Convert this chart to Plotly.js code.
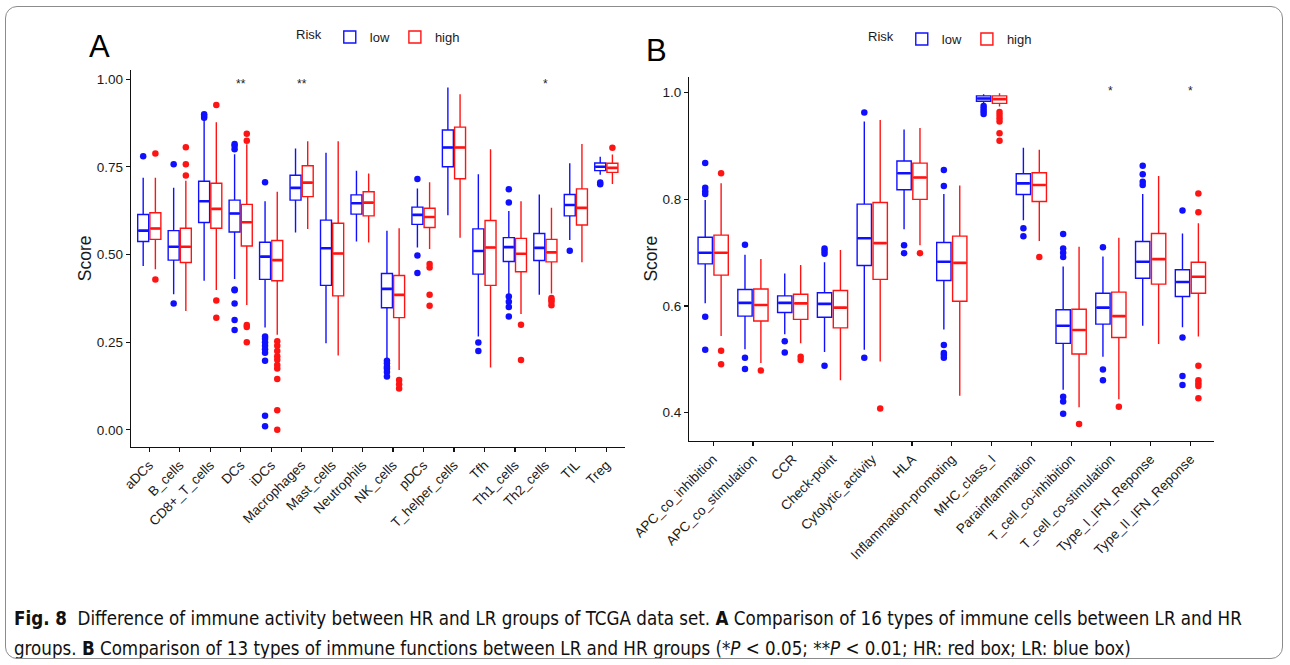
<!DOCTYPE html>
<html>
<head>
<meta charset="utf-8">
<script src="https://cdn.plot.ly/plotly-3.0.1.min.js"></script>
<style>
  html, body { margin: 0; padding: 0; background: #ffffff; }
  #wrap { position: relative; width: 1290px; height: 665px; }
  #chart { width: 1290px; height: 665px; }
  #frame { position: absolute; left: 5px; top: 6px; width: 1278px; height: 653px;
           border: 1.3px solid #8c8c8c; border-radius: 12px; pointer-events: none; box-sizing: border-box; }
</style>
</head>
<body>
<div id="wrap"><div id="chart"></div><div id="frame"></div></div>
<script>
// ---------------- Panel A: immune cells ----------------
const cellsA = ["aDCs","B_cells","CD8+_T_cells","DCs","iDCs","Macrophages","Mast_cells","Neutrophils",
  "NK_cells","pDCs","T_helper_cells","Tfh","Th1_cells","Th2_cells","TIL","Treg"];
const lowA_lo  = [0.467,0.387,0.425,0.430,0.292,0.563,0.247,0.537,0.201,0.520,0.612,0.266,0.387,0.385,0.541,0.727];
const lowA_q1  = [0.537,0.484,0.591,0.564,0.429,0.655,0.412,0.615,0.348,0.586,0.750,0.444,0.480,0.483,0.610,0.739];
const lowA_med = [0.568,0.522,0.652,0.617,0.494,0.690,0.518,0.646,0.402,0.613,0.805,0.510,0.521,0.519,0.641,0.750];
const lowA_q3  = [0.614,0.568,0.709,0.655,0.535,0.726,0.598,0.670,0.446,0.635,0.855,0.573,0.548,0.560,0.671,0.761];
const lowA_hi  = [0.719,0.690,0.885,0.786,0.652,0.802,0.790,0.739,0.568,0.688,0.976,0.729,0.624,0.671,0.760,0.779];
const lowA_out = [[0.780],[0.757,0.360],[0.890,0.895,0.900],[0.800,0.810,0.815,0.400,0.398,0.360,0.313,0.285],
  [0.706,0.266,0.260,0.250,0.240,0.230,0.220,0.197,0.040,0.010],[],[],[],
  [0.197,0.190,0.180,0.175,0.165,0.152],[0.715,0.497,0.447],[],[0.249,0.225],
  [0.686,0.648,0.380,0.365,0.350,0.323],[],[0.511],[0.700,0.705]];
const highA_lo  = [0.458,0.339,0.399,0.356,0.271,0.573,0.212,0.534,0.171,0.516,0.548,0.178,0.330,0.389,0.478,0.701];
const highA_q1  = [0.543,0.477,0.575,0.524,0.425,0.665,0.382,0.610,0.320,0.577,0.716,0.412,0.451,0.479,0.584,0.734];
const highA_med = [0.574,0.522,0.630,0.592,0.484,0.705,0.503,0.648,0.385,0.607,0.805,0.520,0.502,0.506,0.633,0.747];
const highA_q3  = [0.619,0.575,0.703,0.643,0.540,0.753,0.589,0.679,0.440,0.632,0.863,0.597,0.546,0.543,0.687,0.760];
const highA_hi  = [0.719,0.710,0.877,0.814,0.679,0.823,0.823,0.731,0.575,0.706,0.957,0.800,0.652,0.633,0.815,0.785];
const highA_out = [[0.788,0.429],[0.806,0.757,0.725],[0.926,0.369,0.320],[0.844,0.824,0.299,0.293,0.250],
  [0.253,0.240,0.225,0.210,0.200,0.185,0.175,0.145,0.056,0.000],[],[],[],
  [0.142,0.130,0.118],[0.473,0.463,0.385,0.354],[],[],
  [0.300,0.199],[0.376,0.370,0.365,0.355],[],[0.804]];
const starsA = {"DCs":"**","Macrophages":"**","Th2_cells":"*"};

// ---------------- Panel B: immune functions ----------------
const funcsB = ["APC_co_inhibition","APC_co_stimulation","CCR","Check-point","Cytolytic_activity","HLA",
  "Inflammation-promoting","MHC_class_I","Parainflammation","T_cell_co-inhibition","T_cell_co-stimulation",
  "Type_I_IFN_Reponse","Type_II_IFN_Reponse"];
const lowB_lo  = [0.605,0.519,0.547,0.514,0.518,0.744,0.556,0.980,0.761,0.443,0.505,0.563,0.560];
const lowB_q1  = [0.679,0.581,0.588,0.579,0.676,0.818,0.648,0.984,0.809,0.530,0.566,0.652,0.618];
const lowB_med = [0.700,0.606,0.606,0.604,0.727,0.849,0.683,0.989,0.830,0.563,0.597,0.683,0.645];
const lowB_q3  = [0.729,0.631,0.619,0.625,0.791,0.872,0.719,0.994,0.848,0.593,0.624,0.721,0.668];
const lowB_hi  = [0.799,0.696,0.661,0.682,0.946,0.931,0.810,0.997,0.897,0.674,0.693,0.810,0.736];
const lowB_out = [[0.868,0.822,0.815,0.810,0.580,0.518],[0.715,0.503,0.482],[0.534,0.513],[0.708,0.703,0.698,0.488],
  [0.963,0.503],[0.714,0.699],[0.855,0.825,0.527,0.512,0.508,0.503],[0.975,0.970,0.965,0.960],
  [0.746,0.731],[0.735,0.708,0.700,0.692,0.430,0.421,0.398],[0.710,0.481,0.461],[0.863,0.847,0.833,0.827],
  [0.779,0.541,0.469,0.452]];
const highB_lo  = [0.544,0.493,0.530,0.461,0.496,0.714,0.432,0.974,0.722,0.410,0.425,0.529,0.543];
const highB_q1  = [0.658,0.572,0.575,0.559,0.650,0.800,0.609,0.980,0.796,0.510,0.541,0.641,0.624];
const highB_med = [0.700,0.602,0.605,0.597,0.718,0.841,0.681,0.988,0.827,0.555,0.581,0.688,0.655];
const highB_q3  = [0.733,0.632,0.622,0.629,0.794,0.868,0.731,0.994,0.850,0.594,0.626,0.736,0.682];
const highB_hi  = [0.830,0.688,0.677,0.705,0.949,0.934,0.826,0.999,0.893,0.711,0.728,0.844,0.755];
const highB_out = [[0.849,0.516,0.491],[0.479],[0.505,0.499],[],[0.408],[0.699],[],
  [0.964,0.958,0.952,0.946,0.924,0.910],[0.692],[0.379],[0.411],[],
  [0.811,0.776,0.488,0.461,0.455,0.450,0.427]];
const starsB = {"T_cell_co-stimulation":"*","Type_II_IFN_Reponse":"*"};

// ---------------- build ----------------
const LOW = "#1010ff", HIGH = "#ff1414";
const DODGE = 0.2, BOXW = 0.36;
const traces = [];

function addPanel(cats, groups, xa, ya, legendName) {
  const pos = cats.map((c, i) => i + 1);
  groups.forEach(g => {
    const xs = pos.map(p => p + g.off);
    traces.push({
      type: "box", name: g.name, x: xs, q1: g.q1, median: g.med, q3: g.q3,
      lowerfence: g.lo, upperfence: g.hi, width: BOXW, whiskerwidth: 0,
      boxpoints: false, fillcolor: "rgba(255,255,255,1)",
      line: { color: g.color, width: 1.4 }, xaxis: xa, yaxis: ya,
      legend: legendName, showlegend: true, hoverinfo: "skip"
    });
    // thicker median segments
    const mx = [], my = [];
    xs.forEach((x, i) => { mx.push(x - BOXW / 2 + 0.02, x + BOXW / 2 - 0.02, null); my.push(g.med[i], g.med[i], null); });
    traces.push({ type: "scatter", mode: "lines", x: mx, y: my, line: { color: g.color, width: 2.6 },
      xaxis: xa, yaxis: ya, showlegend: false, hoverinfo: "skip" });
    // outliers
    const ox = [], oy = [];
    g.out.forEach((arr, i) => arr.forEach(v => { ox.push(xs[i]); oy.push(v); }));
    traces.push({ type: "scatter", mode: "markers", x: ox, y: oy,
      marker: { color: g.color, size: 6.5, line: { width: 0 } },
      xaxis: xa, yaxis: ya, showlegend: false, hoverinfo: "skip" });
  });
}

addPanel(cellsA, [
  { name: "low", off: -DODGE, color: LOW, lo: lowA_lo, q1: lowA_q1, med: lowA_med, q3: lowA_q3, hi: lowA_hi, out: lowA_out },
  { name: "high", off: DODGE, color: HIGH, lo: highA_lo, q1: highA_q1, med: highA_med, q3: highA_q3, hi: highA_hi, out: highA_out }
], "x", "y", "legend");
addPanel(funcsB, [
  { name: "low", off: -DODGE, color: LOW, lo: lowB_lo, q1: lowB_q1, med: lowB_med, q3: lowB_q3, hi: lowB_hi, out: lowB_out },
  { name: "high", off: DODGE, color: HIGH, lo: highB_lo, q1: highB_q1, med: highB_med, q3: highB_q3, hi: highB_hi, out: highB_out }
], "x2", "y2", "legend2");

const W = 1290, H = 665;
const px = v => v / W, py = v => 1 - v / H;
const TXT = "#1a1a1a";
const tickFont = { family: "Liberation Sans, Arial, sans-serif", size: 13.5, color: TXT };

function xAxis(cats, dom, range, anchor) {
  return { domain: dom, range: range, anchor: anchor, tickmode: "array",
    tickvals: cats.map((c, i) => i + 1), ticktext: cats, tickangle: -45,
    showline: true, linecolor: "#111", linewidth: 1.3, ticks: "outside", ticklen: 4,
    tickcolor: "#111", tickwidth: 1.2, showgrid: false, zeroline: false, tickfont: tickFont, fixedrange: true };
}
function yAxis(dom, range, anchor, vals, fmt) {
  return { domain: dom, range: range, anchor: anchor, tickmode: "array", tickvals: vals,
    ticktext: vals.map(v => v.toFixed(fmt)),
    showline: true, linecolor: "#111", linewidth: 1.3, ticks: "outside", ticklen: 4,
    tickcolor: "#111", tickwidth: 1.2, showgrid: false, zeroline: false, tickfont: tickFont,
    title: { text: "Score", font: { family: "Liberation Sans, Arial, sans-serif", size: 17.5, color: TXT }, standoff: 0 },
    fixedrange: true };
}

const annotations = [];
Object.keys(starsA).forEach(k => annotations.push({ xref: "x", yref: "y", x: cellsA.indexOf(k) + 1, y: 0.985,
  text: starsA[k], showarrow: false, font: { size: 12, color: "#222", family: "Liberation Sans, Arial" } }));
Object.keys(starsB).forEach(k => annotations.push({ xref: "x2", yref: "y2", x: funcsB.indexOf(k) + 1, y: 1.004,
  text: starsB[k], showarrow: false, font: { size: 12, color: "#222", family: "Liberation Sans, Arial" } }));
annotations.push({ xref: "paper", yref: "paper", x: px(87), y: py(46), xanchor: "left", yanchor: "middle",
  text: "A", showarrow: false, font: { family: "Liberation Sans, Arial", size: 31, color: "#000" } });
annotations.push({ xref: "paper", yref: "paper", x: px(644), y: py(50), xanchor: "left", yanchor: "middle",
  text: "B", showarrow: false, font: { family: "Liberation Sans, Arial", size: 31, color: "#000" } });
const capFont = { family: "DejaVu Sans Condensed, Liberation Sans Narrow, sans-serif", size: 18.6, color: "#111" };
annotations.push({ xref: "paper", yref: "paper", x: px(12), y: py(618), xanchor: "left", yanchor: "middle",
  showarrow: false, font: capFont,
  text: "<b>Fig. 8</b>  Difference of immune activity between HR and LR groups of TCGA data set. <b>A</b> Comparison of 16 types of immune cells between LR and HR" });
annotations.push({ xref: "paper", yref: "paper", x: px(12), y: py(648), xanchor: "left", yanchor: "middle",
  showarrow: false, font: capFont,
  text: "groups. <b>B</b> Comparison of 13 types of immune functions between LR and HR groups (*<i>P</i> < 0.05; **<i>P</i> < 0.01; HR: red box; LR: blue box)" });

const legFont = { family: "Liberation Sans, Arial, sans-serif", size: 13, color: TXT };
const layout = {
  width: W, height: H, margin: { l: 0, r: 0, t: 0, b: 0 },
  paper_bgcolor: "#fff", plot_bgcolor: "#fff", showlegend: true,
  xaxis: xAxis(cellsA, [px(131), px(624.6)], [0.4, 16.6], "y"),
  yaxis: yAxis([py(446.7), py(70)], [-0.048, 1.026], "x", [0, 0.25, 0.5, 0.75, 1.0], 2),
  xaxis2: xAxis(funcsB, [px(689.3), px(1214.3)], [0.4, 13.6], "y2"),
  yaxis2: yAxis([py(440.7), py(76.7)], [0.3475, 1.03], "x2", [0.4, 0.6, 0.8, 1.0], 1),
  legend: { orientation: "h", x: px(294), y: py(22), xanchor: "left", yanchor: "top",
    title: { text: "Risk", side: "left", font: legFont }, font: legFont, bgcolor: "rgba(0,0,0,0)", itemwidth: 30 },
  legend2: { orientation: "h", x: px(866), y: py(24), xanchor: "left", yanchor: "top",
    title: { text: "Risk", side: "left", font: legFont }, font: legFont, bgcolor: "rgba(0,0,0,0)", itemwidth: 30 },
  annotations: annotations
};

Plotly.newPlot("chart", traces, layout, { staticPlot: true, displayModeBar: false });
</script>
</body>
</html>
